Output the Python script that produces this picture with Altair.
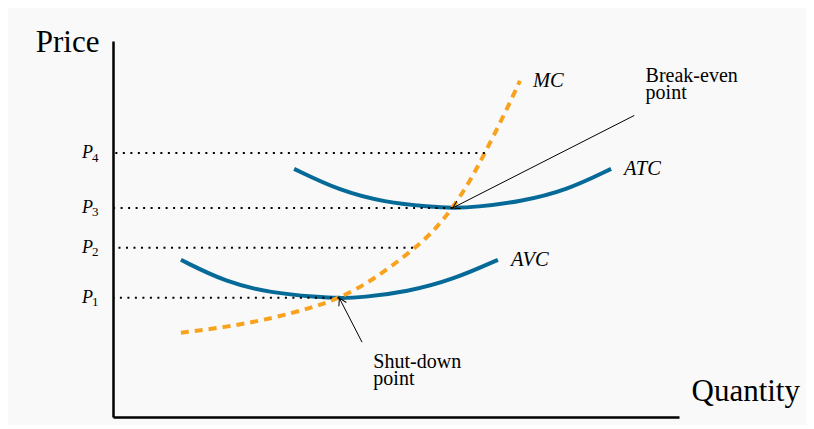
import math
import altair as alt
import pandas as pd

# ---------------- data ----------------
avc_q = [12, 20, 28, 36, 40, 44, 52, 60, 68]
avc_p = [41.8, 35.8, 33.0, 31.9, 31.6, 31.8, 33.3, 36.5, 41.8]

atc_q = [32, 40, 48, 56, 60, 64, 72, 80, 88]
atc_p = [66.0, 60.2, 57.1, 55.9, 55.6, 55.8, 57.3, 60.2, 66.0]

mc_q = [12, 20, 28, 35, 40, 46, 53.5, 57, 60, 63, 65.7, 69, 71.9]
mc_p = [22.4, 23.9, 26.2, 29.0, 31.6, 36.4, 45.0, 50.0, 55.6, 62.5, 70.2, 80.0, 89.4]

price_subscripts = ["4", "3", "2", "1"]
price_levels = [70.2, 55.6, 45.0, 31.7]
price_line_ends = [65.7, 60.0, 53.0, 40.0]

curve_names = ["MC", "ATC", "AVC"]

annot_texts = ["Break-even\npoint", "Shut-down\npoint"]
annot_text_q = [94.1, 46.0]
annot_text_p = [89.2, 12.95]
arrow_from_q = [92.1, 44.0]
arrow_from_p = [80.2, 19.9]
arrow_to_q = [60.0, 40.0]
arrow_to_p = [55.6, 31.6]

# ---------------- layout ----------------
W, H = 566, 376
BLUE = "#066a98"
ORANGE = "#f8a21d"
SERIF = "Liberation Serif"

rows = []
for name, qs, ps in [("AVC", avc_q, avc_p), ("ATC", atc_q, atc_p), ("MC", mc_q, mc_p)]:
    for i, (q, p) in enumerate(zip(qs, ps)):
        rows.append({"curve": name, "i": i, "q": q, "p": p})
curves_df = pd.DataFrame(rows)

levels_df = pd.DataFrame({"sub": price_subscripts, "p": price_levels, "q_end": price_line_ends})

labels_df = pd.DataFrame({
    "name": curve_names,
    "q": [mc_q[-1], atc_q[-1], avc_q[-1]],
    "p": [mc_p[-1], atc_p[-1], avc_p[-1]],
})

sx, sy = W / 100.0, H / 100.0
angles = []
for q0, p0, q1, p1 in zip(arrow_from_q, arrow_from_p, arrow_to_q, arrow_to_p):
    dx = (q1 - q0) * sx
    dy = -(p1 - p0) * sy
    angles.append(math.degrees(math.atan2(dy, dx)) % 360)

annot_df = pd.DataFrame({
    "text": annot_texts,
    "tq": annot_text_q, "tp": annot_text_p,
    "q0": arrow_from_q, "p0": arrow_from_p,
    "q1": arrow_to_q, "p1": arrow_to_p,
    "angle": angles,
})

xs = alt.Scale(domain=[0, 100], nice=False, zero=False)
ys = alt.Scale(domain=[0, 100], nice=False, zero=False)

x_axis = alt.Axis(
    title="Quantity", titleX=578, titleY=-17, titleAlign="left",
    titleBaseline="alphabetic", titleAngle=0,
)
y_axis = alt.Axis(
    title="Price", titleX=-14, titleY=10, titleAlign="right",
    titleBaseline="alphabetic", titleAngle=0,
)

blue = alt.Chart(curves_df).transform_filter(
    alt.FieldOneOfPredicate(field="curve", oneOf=["AVC", "ATC"])
).mark_line(color=BLUE, strokeWidth=4, interpolate="basis").encode(
    x=alt.X("q:Q", scale=xs, axis=x_axis),
    y=alt.Y("p:Q", scale=ys, axis=y_axis),
    detail="curve:N",
    order="i:Q",
)

mc = alt.Chart(curves_df).transform_filter(
    alt.FieldEqualPredicate(field="curve", equal="MC")
).mark_line(color=ORANGE, strokeWidth=4, strokeDash=[8, 6], interpolate="basis").encode(
    x=alt.X("q:Q", scale=xs),
    y=alt.Y("p:Q", scale=ys),
    order="i:Q",
)

dotted = alt.Chart(levels_df).mark_rule(
    color="black", strokeWidth=2, strokeDash=[2, 5.5], strokeCap="butt"
).encode(
    x=alt.X("q_end:Q", scale=xs),
    x2=alt.value(0),
    y=alt.Y("p:Q", scale=ys),
)

p_letter = alt.Chart(levels_df).mark_text(
    text="P", font=SERIF, fontSize=18, fontStyle="italic", align="right",
    baseline="alphabetic", dx=-20, dy=5, color="black",
).encode(
    x=alt.value(0),
    y=alt.Y("p:Q", scale=ys),
)

p_sub = alt.Chart(levels_df).mark_text(
    font=SERIF, fontSize=13, align="left", baseline="alphabetic",
    dx=-21, dy=8.5, color="black",
).encode(
    x=alt.value(0),
    y=alt.Y("p:Q", scale=ys),
    text="sub:N",
)

curve_labels = alt.Chart(labels_df).mark_text(
    font=SERIF, fontSize=20.5, fontStyle="italic", align="left",
    baseline="alphabetic", dx=13, dy=6, color="black",
).encode(
    x=alt.X("q:Q", scale=xs),
    y=alt.Y("p:Q", scale=ys),
    text="name:N",
)

arrows = alt.Chart(annot_df).mark_rule(color="black", strokeWidth=1).encode(
    x=alt.X("q0:Q", scale=xs),
    y=alt.Y("p0:Q", scale=ys),
    x2="q1:Q",
    y2="p1:Q",
)

heads = alt.Chart(annot_df).mark_point(
    shape="M-1,-0.6L0,0L-1,0.6", filled=False, stroke="black", strokeWidth=1,
    size=196, opacity=1,
).encode(
    x=alt.X("q1:Q", scale=xs),
    y=alt.Y("p1:Q", scale=ys),
    angle=alt.Angle("angle:Q", scale=None),
)

annot_text = alt.Chart(annot_df).mark_text(
    font=SERIF, fontSize=20, align="left", baseline="alphabetic",
    lineBreak="\n", lineHeight=17, color="black",
).encode(
    x=alt.X("tq:Q", scale=xs),
    y=alt.Y("tp:Q", scale=ys),
    text="text:N",
)

chart = alt.layer(
    blue, mc, dotted, p_letter, p_sub, curve_labels, arrows, heads, annot_text
).properties(
    width=W, height=H,
    autosize=alt.AutoSizeParams(type="none"),
    padding={"left": 105, "top": 33, "right": 127, "bottom": 8},
    background="#f9f9f9",
).configure_view(strokeWidth=0).configure_axis(
    ticks=False, labels=False, grid=False,
    domain=True, domainColor="black", domainWidth=2.5,
    titleFont=SERIF, titleFontSize=31, titleFontWeight="normal", titleColor="black",
)

chart.save("out.html", embed_options={"renderer": "svg", "actions": False})
